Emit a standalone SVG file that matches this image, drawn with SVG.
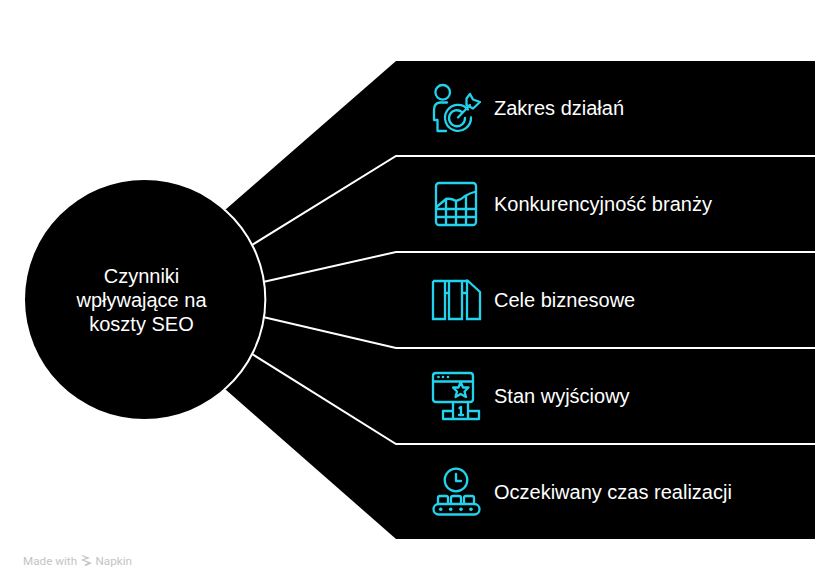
<svg xmlns="http://www.w3.org/2000/svg" width="840" height="588" viewBox="0 0 840 588">
<style>
.t{font-family:"Liberation Sans",Arial,sans-serif;font-size:20px;fill:#fff}
.i{fill:none;stroke:#22d3ee;stroke-width:2.300;stroke-linecap:round;stroke-linejoin:round}
.d{fill:#22d3ee;stroke:none}
.c{fill:none;stroke:#fff;stroke-width:2}
</style>
<rect width="840" height="588" fill="#fff"/>
<g id="fan"><path d="M225 210L396 61H815V539H396L225 389Z" fill="#000"/></g>
<g id="connectors">
<path class="c" d="M252 245L396 156H815"/>
<path class="c" d="M263 282L396 252H815"/>
<path class="c" d="M263 317L396 348H815"/>
<path class="c" d="M252 354L396 444H815"/>
</g>
<g id="center">
<circle cx="144.500" cy="299.500" r="119.500" fill="#000"/>
<path d="M225 210A119.500 119.500 0 0 1 225 389" fill="none" stroke="#fff" stroke-width="2"/>
<g class="t" text-anchor="middle"><text x="141.500" y="283">Czynniki</text><text x="141.500" y="307">wpływające na</text><text x="141.500" y="331">koszty SEO</text></g>
</g>
<g id="n1">
<g class="i">
<circle cx="442.700" cy="92.300" r="7.300"/>
<path d="M447 102.500H440Q434 103 434 110V120H437.500V131H446"/>
<path d="M468 109.500A13 13 0 1 0 471 117.500"/>
<path d="M462 112A8 8 0 1 0 465 118"/>
<path d="M458 117.500L470 105M466.500 105V98.500L470 94L473 99.500L480 102L473 108.500Z"/>
</g>
<text class="t" x="494" y="115">Zakres działań</text>
</g>
<g id="n2">
<g class="i">
<rect x="436" y="183" width="40" height="42" rx="3"/>
<path d="M436.500 207L446 199Q451 198 456 201Q461 200 465 196Q470 193 476 191.500"/>
<path d="M436 209H476M436 217H476M446 199V225M456 201V225M466 196V225"/>
</g>
<text class="t" x="494" y="211">Konkurencyjność branży</text>
</g>
<g id="n3">
<g class="i" style="stroke-linecap:butt;stroke-linejoin:miter">
<path d="M433 281H467"/>
<path d="M433 281V319H445V281"/>
<path d="M449 281V319H462V281"/>
<path d="M467 279.500V319H480V292L467 280"/>
<path d="M445 293H449M462 293H467"/>
</g>
<text class="t" x="494" y="307">Cele biznesowe</text>
</g>
<g id="n4">
<g class="i">
<path d="M453 402H436Q433 402 433 399V376Q433 373 436 373H470Q473 373 473 376V399Q473 402 470 402H468"/>
<path d="M433 381.500H473"/>
<path d="M460.700 382L463 387.500H468.500L464.500 391.500L466 397L460.700 394L455.500 397L457 391.500L453 387.500H458.500Z"/>
<path d="M453 419V402H468V419M453 411H443V419H479V411H468"/>
<path d="M459.500 408L461 407V415M459 415H463"/>
</g>
<circle class="d" cx="438.500" cy="377" r="1.300"/><circle class="d" cx="443" cy="377" r="1.300"/><circle class="d" cx="448" cy="377" r="1.300"/>
<text class="t" x="494" y="403">Stan wyjściowy</text>
</g>
<g id="n5">
<g class="i">
<circle cx="456" cy="480" r="11.300"/>
<path d="M456 474V481H461"/>
<path d="M438 504V498Q438 496 440 496H446Q448 496 448 498V504M451 504V498Q451 496 453 496H459Q461 496 461 498V504M464 504V498Q464 496 466 496H472Q474 496 474 498V504"/>
<rect x="433.500" y="504" width="46" height="10.500" rx="5.200"/>
</g>
<circle class="d" cx="440.700" cy="509.300" r="1.800"/><circle class="d" cx="450.700" cy="509.300" r="1.800"/><circle class="d" cx="461" cy="509.300" r="1.800"/><circle class="d" cx="471" cy="509.300" r="1.800"/>
<text class="t" x="494" y="499">Oczekiwany czas realizacji</text>
</g>
<g id="watermark" fill="#c4c4c4">
<text x="23" y="565" font-family="Roboto,'Liberation Sans',sans-serif" font-size="11.700">Made with</text>
<path d="M82 555L90 558L84 560L92 563L86 566L84 565L88 563L81 560L86 558L82 556Z"/>
<text x="95.500" y="565" font-family="Roboto,'Liberation Sans',sans-serif" font-size="11.700">Napkin</text>
</g>
</svg>
